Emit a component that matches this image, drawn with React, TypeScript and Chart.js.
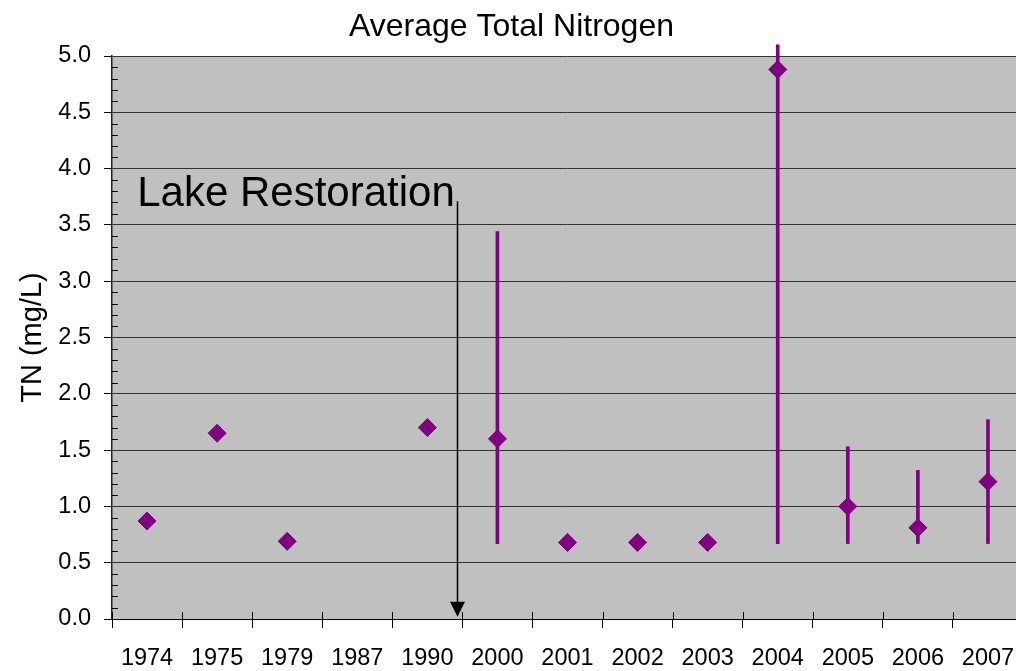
import React, { useEffect, useRef } from 'react';
import { Chart, registerables } from 'chart.js';

Chart.register(...registerables);

// ---- data ----
const categories = ['1974', '1975', '1979', '1987', '1990', '2000', '2001', '2002', '2003', '2004', '2005', '2006', '2007'];
const meanTN = [0.87, 1.65, 0.69, null, 1.7, 1.6, 0.68, 0.68, 0.68, 4.88, 1.0, 0.81, 1.22];
const errLow = [null, null, null, null, null, 0.67, null, null, null, 0.67, 0.67, 0.67, 0.67];
const errHigh = [null, null, null, null, null, 3.44, null, null, null, 5.1, 1.53, 1.32, 1.77];
const yMin = 0;
const yMax = 5;
const yStep = 0.5;
const yMinorStep = 0.1;
const titleText = 'Average Total Nitrogen';
const yTitleText = 'TN (mg/L)';
const annotationText = 'Lake Restoration';
// annotation anchor in data units (category index, value)
const annotationTextAt = [-0.14, 3.67];
const arrowX = 4.43;
const arrowFromY = 3.71;
const arrowToY = 0.02;

const FONT = "'Liberation Sans', Arial, Helvetica, sans-serif";
const PURPLE = '#800080';
const VIEW_W = 1016;
const CANVAS_W = 1023; // plot area runs a little past the right edge, as in the reference
const CANVAS_H = 671;

const errorBars = errLow.map((lo, i) => (lo === null || errHigh[i] === null ? null : [lo, errHigh[i]]));

const decorPlugin = {
  id: 'decor',
  beforeDraw(chart: any) {
    const { ctx, chartArea } = chart;
    ctx.save();
    ctx.fillStyle = '#C0C0C0';
    ctx.fillRect(chartArea.left, chartArea.top, chartArea.right - chartArea.left, chartArea.bottom - chartArea.top);
    ctx.restore();
  },
  afterDatasetsDraw(chart: any) {
    const { ctx, chartArea, scales } = chart;
    const x = scales.x;
    const y = scales.y;
    ctx.save();
    // minor ticks on y axis (inside)
    ctx.strokeStyle = '#000';
    ctx.lineWidth = 1;
    ctx.beginPath();
    for (let k = 1; k < Math.round((yMax - yMin) / yMinorStep); k++) {
      const v = yMin + k * yMinorStep;
      if (Math.abs(v / yStep - Math.round(v / yStep)) < 1e-6) continue;
      const py = Math.round(y.getPixelForValue(v)) + 0.5;
      ctx.moveTo(chartArea.left, py);
      ctx.lineTo(chartArea.left + 6, py);
    }
    // x category tick marks (inside part)
    for (let i = 0; i <= categories.length; i++) {
      const px = Math.round(x.getPixelForValue(i - 0.5)) + 0.5;
      ctx.moveTo(px, chartArea.bottom);
      ctx.lineTo(px, chartArea.bottom - 7);
    }
    ctx.stroke();

    // annotation text
    ctx.fillStyle = '#000';
    ctx.font = `42px ${FONT}`;
    ctx.textBaseline = 'alphabetic';
    ctx.textAlign = 'left';
    ctx.fillText(annotationText, x.getPixelForValue(annotationTextAt[0]), y.getPixelForValue(annotationTextAt[1]));

    // arrow
    const ax = Math.round(x.getPixelForValue(arrowX)) + 0.5;
    const y0 = y.getPixelForValue(arrowFromY);
    const y1 = y.getPixelForValue(arrowToY);
    ctx.strokeStyle = '#000';
    ctx.lineWidth = 1.5;
    ctx.beginPath();
    ctx.moveTo(ax, y0);
    ctx.lineTo(ax, y1 - 12);
    ctx.stroke();
    ctx.beginPath();
    ctx.moveTo(ax - 7.5, y1 - 15);
    ctx.lineTo(ax + 7.5, y1 - 15);
    ctx.lineTo(ax, y1);
    ctx.closePath();
    ctx.fill();
    ctx.restore();
  },
};

export default function App() {
  const ref = useRef<HTMLCanvasElement>(null);
  useEffect(() => {
    document.body.style.margin = '0';
    document.body.style.overflow = 'hidden';
    Chart.defaults.font.family = FONT;
    Chart.defaults.color = '#000';
    const chart = new Chart(ref.current as HTMLCanvasElement, {
      type: 'bar',
      data: {
        labels: categories,
        datasets: [
          {
            type: 'line',
            label: 'TN',
            data: meanTN,
            showLine: false,
            pointStyle: 'rectRot',
            pointRadius: 9,
            pointHoverRadius: 9,
            backgroundColor: PURPLE,
            borderColor: PURPLE,
            borderWidth: 1,
            order: 0,
          } as any,
          {
            type: 'bar',
            label: 'range',
            data: errorBars as any,
            backgroundColor: PURPLE,
            borderWidth: 0,
            barThickness: 3,
            clip: false,
            order: 1,
          } as any,
        ],
      },
      options: {
        responsive: false,
        animation: false,
        events: [],
        layout: { autoPadding: false, padding: 0 },
        plugins: {
          legend: { display: false },
          tooltip: { enabled: false },
          title: {
            display: true,
            text: titleText,
            color: '#000',
            font: { size: 32, weight: 'normal', family: FONT },
            padding: { top: 8, bottom: 9.6 },
          },
        },
        scales: {
          x: {
            type: 'category',
            offset: true,
            grid: {
              offset: true,
              drawOnChartArea: false,
              drawTicks: true,
              tickLength: 9,
              color: '#000',
            },
            border: { display: true, color: '#000', width: 1 },
            ticks: {
              autoSkip: false,
              maxRotation: 0,
              minRotation: 0,
              padding: 16,
              color: '#000',
              font: { size: 23.5, family: FONT },
            },
            afterFit: (s: any) => {
              s.height = 52;
              s.paddingLeft = 0;
              s.paddingRight = 0;
            },
          },
          y: {
            min: yMin,
            max: yMax,
            ticks: {
              stepSize: yStep,
              padding: 13,
              color: '#000',
              font: { size: 23.5, family: FONT },
              callback: (v: any) => Number(v).toFixed(1),
            },
            grid: {
              color: '#333',
              lineWidth: 1,
              tickLength: 8,
              tickColor: '#000',
            },
            border: { display: true, color: '#222', width: 1.5 },
            title: {
              display: true,
              text: yTitleText,
              color: '#000',
              font: { size: 29, family: FONT },
              padding: { top: 15.5, bottom: 0 },
            },
            afterFit: (s: any) => {
              s.width = 112;
            },
          },
        },
      },
      plugins: [decorPlugin],
    });
    return () => chart.destroy();
  }, []);
  return (
    <div style={{ width: VIEW_W, height: CANVAS_H, overflow: 'hidden', background: '#fff', position: 'relative' }}>
      <canvas
        ref={ref}
        width={CANVAS_W}
        height={CANVAS_H}
        style={{ display: 'block', width: CANVAS_W, height: CANVAS_H, position: 'absolute', left: 0, top: 0 }}
      />
    </div>
  );
}
